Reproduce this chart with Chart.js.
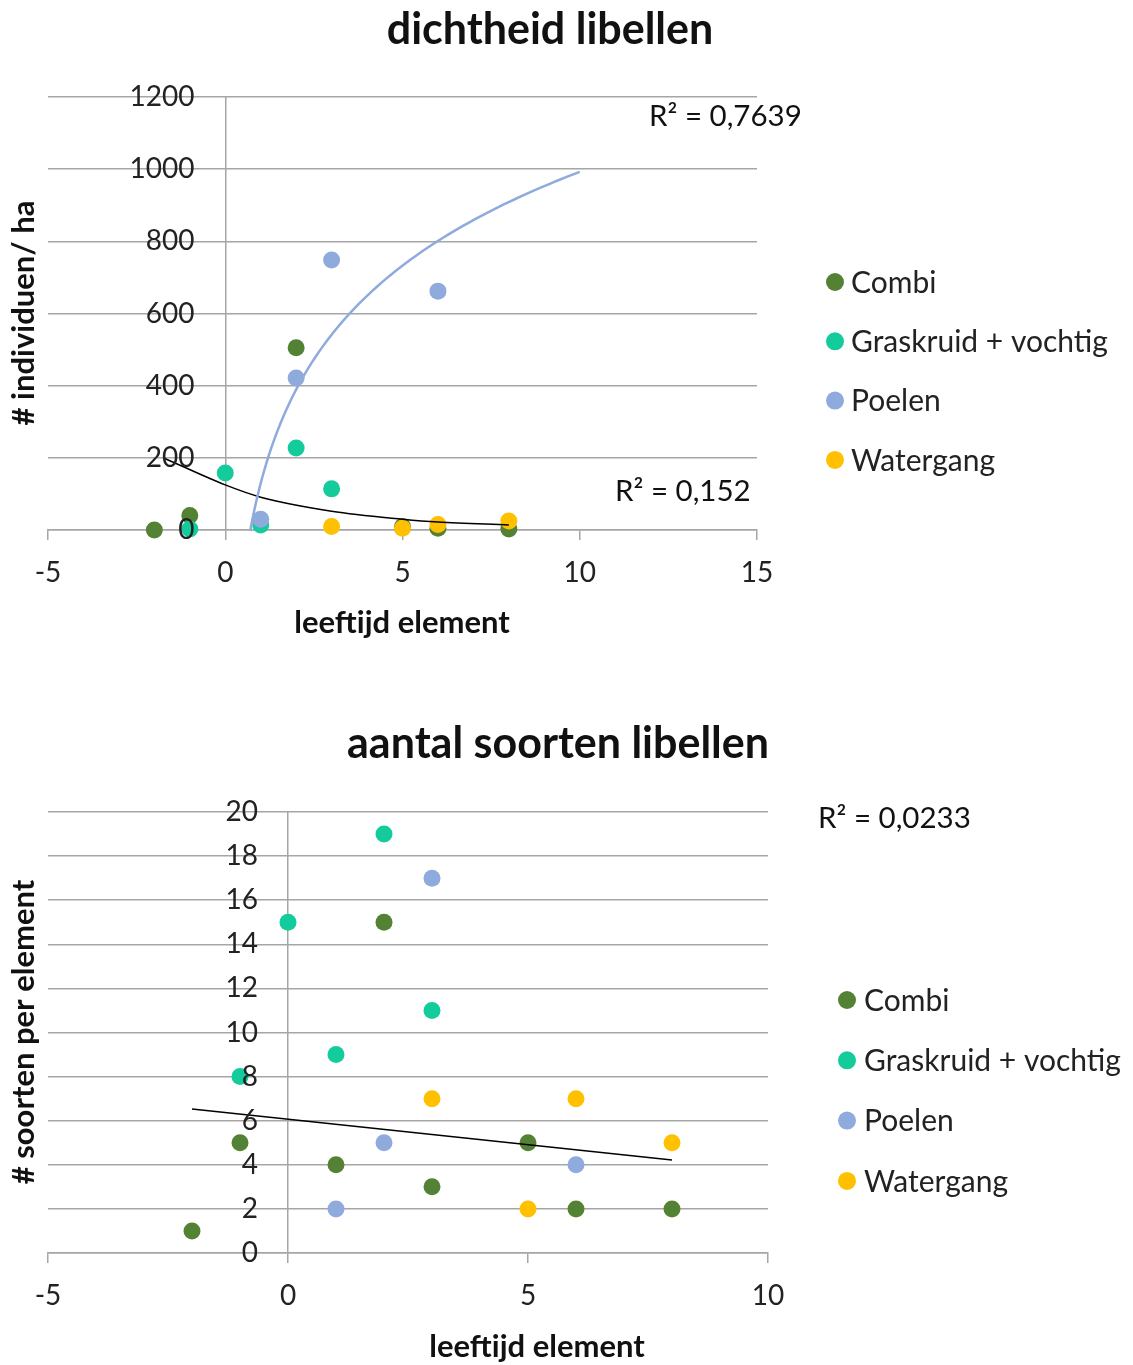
<!DOCTYPE html>
<html>
<head>
<meta charset="utf-8">
<script src="https://cdn.jsdelivr.net/npm/chart.js@4.4.1/dist/chart.umd.min.js"></script>
<style>
  body { margin: 0; background: #fff; }
  #wrap { position: relative; width: 1133px; height: 1365px; }
  canvas { position: absolute; left: 0; }
</style>
</head>
<body>
<div id="wrap">
  <canvas id="chartDichtheid" width="1133" height="680" style="top:0px"></canvas>
  <canvas id="chartSoorten" width="1133" height="685" style="top:680px"></canvas>
</div>
<script>
// series
const seriesNames = ["Combi", "Graskruid + vochtig", "Poelen", "Watergang"];
const seriesColors = ["#548235", "#14CC9B", "#8FAADC", "#FFC000"];

// dichtheid libellen (# individuen / ha)
const densCombiX = [-2, -1, 2, 5, 6, 8];
const densCombiY = [0, 40, 505, 10, 5, 3];
const densGrasX = [-1, 0, 1, 2, 3];
const densGrasY = [3, 158, 14, 227, 114];
const densPoelX = [1, 2, 3, 6];
const densPoelY = [30, 421, 748, 662];
const densWaterX = [3, 5, 6, 8];
const densWaterY = [10, 5, 15, 25];
const densExpX = [-1.72, 0, 1, 3, 5, 6, 8];
const densExpY = [199, 125, 91, 52, 30, 22, 14];
const densXTicks = [-5, 0, 5, 10, 15];
const densYTicks = [0, 200, 400, 600, 800, 1000, 1200];

// aantal soorten libellen (# soorten per element)
const sortCombiX = [-2, -1, 1, 2, 3, 5, 6, 8];
const sortCombiY = [1, 5, 4, 15, 3, 5, 2, 2];
const sortGrasX = [-1, 0, 1, 2, 3];
const sortGrasY = [8, 15, 9, 19, 11];
const sortPoelX = [1, 2, 3, 6];
const sortPoelY = [2, 5, 17, 4];
const sortWaterX = [3, 5, 6, 8];
const sortWaterY = [7, 2, 7, 5];
const sortTrendX = [-2, 8];
const sortTrendY = [6.53, 4.22];
const sortXTicks = [-5, 0, 5, 10];
const sortYTicks = [0, 2, 4, 6, 8, 10, 12, 14, 16, 18, 20];

Chart.defaults.font.family = "Lato, 'Open Sans', sans-serif";
Chart.defaults.color = "#222";

const GRID = "#a6a6a6";

function pts(xs, ys) {
  return xs.map((x, i) => ({ x: x, y: ys[i] }));
}

// logaritmische trendlijn (zoals Excel) voor de Poelen
function logTrend(xs, ys, xEnd) {
  const lx = xs.map(Math.log);
  const mx = lx.reduce((a, b) => a + b, 0) / lx.length;
  const my = ys.reduce((a, b) => a + b, 0) / ys.length;
  let sxy = 0, sxx = 0;
  lx.forEach((v, i) => { sxy += (v - mx) * (ys[i] - my); sxx += (v - mx) * (v - mx); });
  const a = sxy / sxx;
  const b = my - a * mx;
  const x0 = Math.exp(-b / a);
  const out = [];
  for (let i = 0; i <= 80; i++) {
    const x = x0 + (xEnd - x0) * Math.pow(i / 80, 1.6);
    out.push({ x: x, y: a * Math.log(x) + b });
  }
  return out;
}

function scatterSet(i, xs, ys) {
  return {
    label: seriesNames[i],
    data: pts(xs, ys),
    backgroundColor: seriesColors[i],
    borderColor: seriesColors[i],
    pointRadius: 8.5,
    pointHoverRadius: 8.5,
    borderWidth: 0,
    order: 5 - i,
    clip: false,
  };
}

function trendSet(data, color, width, smooth) {
  return {
    label: "trend",
    type: "line",
    data: data,
    borderColor: color,
    backgroundColor: color,
    borderWidth: width,
    pointRadius: 0,
    showLine: true,
    fill: false,
    cubicInterpolationMode: smooth ? "monotone" : "default",
    tension: 0,
    order: 0,
    isTrend: true,
    clip: false,
  };
}

// titels, legenda en R²-labels
const decorPlugin = {
  id: "decor",
  afterDraw(chart, args, opts) {
    const ctx = chart.ctx;
    ctx.save();
    ctx.fillStyle = "#111";
    opts.texts.forEach((t) => {
      ctx.save();
      ctx.font = t.font;
      ctx.textAlign = t.align || "left";
      ctx.textBaseline = "middle";
      ctx.translate(t.x, t.y);
      if (t.rotate) ctx.rotate(t.rotate);
      ctx.fillText(t.text, 0, 0);
      ctx.restore();
    });
    const lg = opts.legend;
    ctx.font = lg.font;
    ctx.textAlign = "left";
    ctx.textBaseline = "middle";
    let n = 0;
    chart.data.datasets.forEach((ds) => {
      if (ds.isTrend) return;
      const y = lg.y + n * lg.step;
      ctx.beginPath();
      ctx.fillStyle = ds.backgroundColor;
      ctx.arc(lg.markerX, y, lg.r, 0, Math.PI * 2);
      ctx.fill();
      ctx.fillStyle = "#222";
      ctx.fillText(ds.label, lg.textX, y + 1);
      n++;
    });
    ctx.restore();
  },
};

function scales(xTicks, yTicks, xHeight, labelX) {
  return {
    x: {
      type: "linear",
      min: xTicks[0],
      max: xTicks[xTicks.length - 1],
      afterBuildTicks: (s) => { s.ticks = xTicks.map((v) => ({ value: v })); },
      afterFit: (s) => { s.height = xHeight; },
      grid: {
        drawOnChartArea: true,
        drawTicks: true,
        tickLength: 10,
        color: (c) => (c.tick && c.tick.value === 0 ? GRID : "rgba(0,0,0,0)"),
        tickColor: GRID,
        lineWidth: 1.5,
      },
      border: { color: GRID, width: 1.5 },
      ticks: { font: { size: 28 }, padding: 16, maxRotation: 0, callback: (v) => String(v) },
    },
    y: {
      type: "linear",
      position: { x: labelX },
      min: yTicks[0],
      max: yTicks[yTicks.length - 1],
      afterBuildTicks: (s) => { s.ticks = yTicks.map((v) => ({ value: v })); },
      grid: { drawTicks: false, color: GRID, lineWidth: 1.5 },
      border: { display: false },
      ticks: { font: { size: 28 }, padding: 0, z: 1, callback: (v) => String(v) },
    },
  };
}

const titleFont = "bold 43px Lato, 'Open Sans', sans-serif";
const axisFont = "bold 31px Lato, 'Open Sans', sans-serif";
const textFont = "29.5px Lato, 'Open Sans', sans-serif";
const legendFont = "30px Lato, 'Open Sans', sans-serif";

const chart1 = new Chart("chartDichtheid", {
  type: "scatter",
  data: {
    datasets: [
      scatterSet(0, densCombiX, densCombiY),
      scatterSet(1, densGrasX, densGrasY),
      scatterSet(2, densPoelX, densPoelY),
      scatterSet(3, densWaterX, densWaterY),
      trendSet(logTrend(densPoelX, densPoelY, 10), "#8FAADC", 2.5, false),
      trendSet(pts(densExpX, densExpY), "#000", 1.5, true),
    ],
  },
  options: {
    responsive: false,
    animation: false,
    layout: { padding: { left: 48, right: 376, top: 97, bottom: 0 } },
    scales: scales(densXTicks, densYTicks, 150, -0.87),
    plugins: {
      legend: { display: false },
      tooltip: { enabled: false },
      decor: {
        texts: [
          { text: "dichtheid libellen", x: 550, y: 30, font: titleFont, align: "center" },
          { text: "leeftijd element", x: 402, y: 623, font: axisFont, align: "center" },
          { text: "# individuen/ ha", x: 24, y: 313, font: axisFont, align: "center", rotate: -Math.PI / 2 },
          { text: "R² = 0,7639", x: 649, y: 116, font: textFont },
          { text: "R² = 0,152", x: 615, y: 491, font: textFont },
        ],
        legend: { font: legendFont, markerX: 835, textX: 851, r: 9, y: 282, step: 59.3 },
      },
    },
  },
  plugins: [decorPlugin],
});

const chart2 = new Chart("chartSoorten", {
  type: "scatter",
  data: {
    datasets: [
      scatterSet(0, sortCombiX, sortCombiY),
      scatterSet(1, sortGrasX, sortGrasY),
      scatterSet(2, sortPoelX, sortPoelY),
      scatterSet(3, sortWaterX, sortWaterY),
      trendSet(pts(sortTrendX, sortTrendY), "#000", 1.5, false),
    ],
  },
  options: {
    responsive: false,
    animation: false,
    layout: { padding: { left: 48, right: 365, top: 132, bottom: 0 } },
    scales: scales(sortXTicks, sortYTicks, 112, -0.625),
    plugins: {
      legend: { display: false },
      tooltip: { enabled: false },
      decor: {
        texts: [
          { text: "aantal soorten libellen", x: 558, y: 64, font: titleFont, align: "center" },
          { text: "leeftijd element", x: 537, y: 667, font: axisFont, align: "center" },
          { text: "# soorten per element", x: 24, y: 352, font: axisFont, align: "center", rotate: -Math.PI / 2 },
          { text: "R² = 0,0233", x: 818, y: 138, font: textFont },
        ],
        legend: { font: legendFont, markerX: 847, textX: 864, r: 9, y: 320, step: 60.3 },
      },
    },
  },
  plugins: [decorPlugin],
});
</script>
</body>
</html>
